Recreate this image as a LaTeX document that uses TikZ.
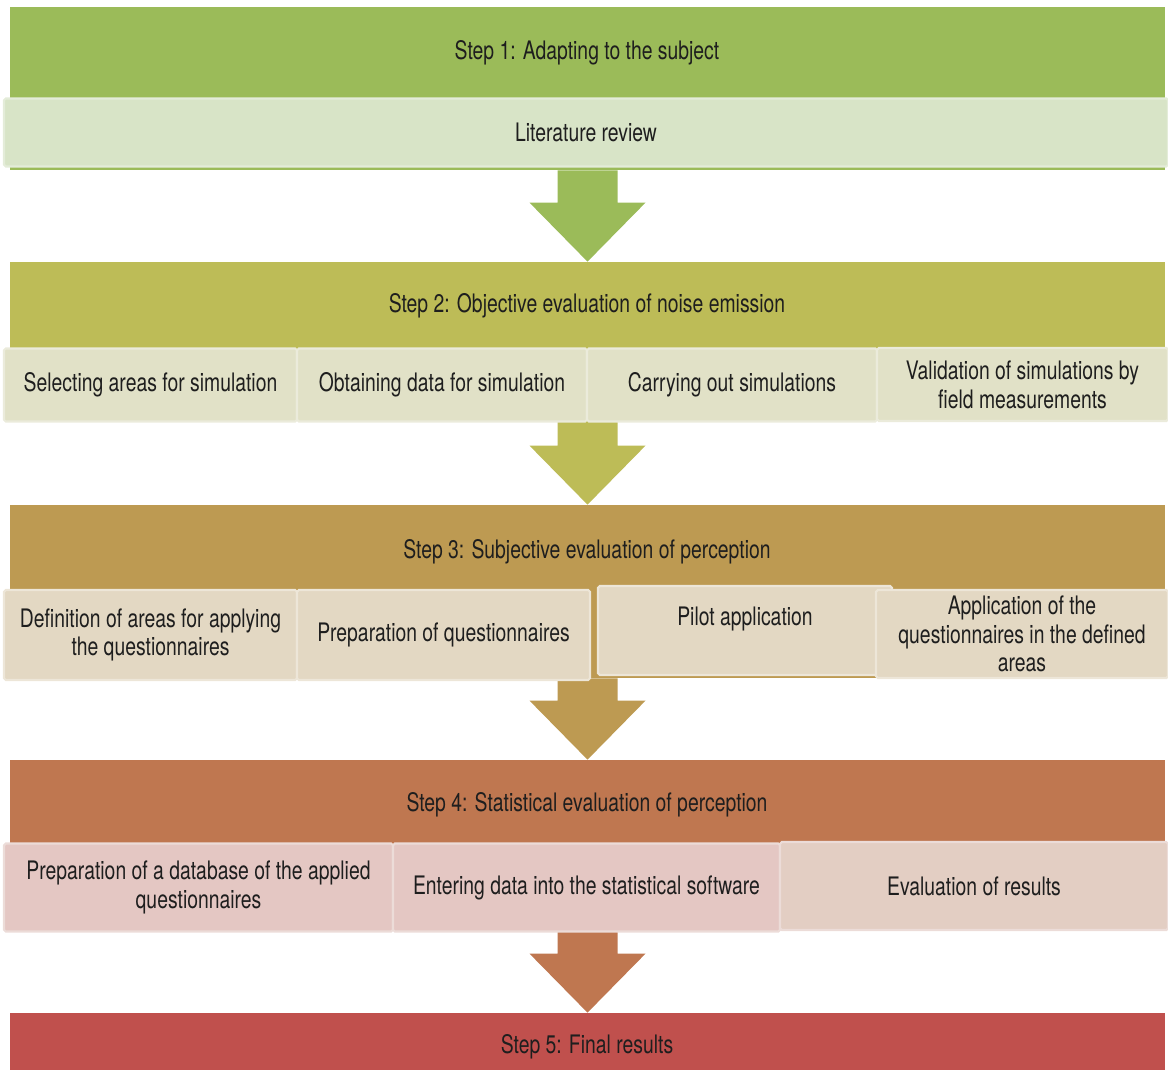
\documentclass[tikz,border=0pt]{standalone}
\usepackage{fontspec}
\setmainfont{TeX Gyre Heros}[FakeStretch=0.76]
\usetikzlibrary{calc}
\definecolor{ink}{HTML}{1E1E1E}
\definecolor{greenA}{HTML}{9BBB59}
\definecolor{greenL}{HTML}{D8E4C7}
\definecolor{greenLL}{HTML}{E4ECD9}
\definecolor{oliveB}{HTML}{BDBC57}
\definecolor{oliveL}{HTML}{E1E1C7}
\definecolor{oliveLL}{HTML}{EBEBDB}
\definecolor{ochreC}{HTML}{BD9A52}
\definecolor{ochreL}{HTML}{E3D8C3}
\definecolor{ochreLL}{HTML}{EDE6D8}
\definecolor{rustD}{HTML}{BF7750}
\definecolor{rustL}{HTML}{E4C7C3}
\definecolor{rustM}{HTML}{E3CEC3}
\definecolor{rustLL}{HTML}{ECDCD8}
\definecolor{redE}{HTML}{C0504D}
\tikzstyle{band}=[rectangle, inner sep=0pt, minimum width=23.1cm]
\tikzstyle{title}=[font=\fontsize{14.5}{16.4}\selectfont, text=ink]
\tikzstyle{stepbox}=[rectangle, rounded corners=1pt, line width=1.2pt, align=center, inner sep=2pt, font=\fontsize{14.5}{16.4}\selectfont, text=ink]
\newcommand{\band}{\node[band]}
\newcommand{\subbox}{\node[stepbox]}
% block arrow from one band down to the next
\newcommand{\stepArrow}[3]{%
  \fill[#3] ($(#1.south)+(-0.6,0)$) -- ($(#2.north)+(-0.6,1.18)$) -- ($(#2.north)+(-1.16,1.18)$)
    -- (#2.north) -- ($(#2.north)+(1.16,1.18)$) -- ($(#2.north)+(0.6,1.18)$) -- ($(#1.south)+(0.6,0)$) -- cycle;}

\begin{document}
\begin{tikzpicture}
    \useasboundingbox (0,0) rectangle (23.36,-21.4);
    % bands
    \band[fill=greenA, minimum height=3.26cm] (s1) at (11.75,-1.77){};
    \band[fill=oliveB, minimum height=3.16cm] (s2) at (11.75,-6.82){};
    \band[fill=ochreC, minimum height=3.46cm] (s3) at (11.75,-11.83){};
    \band[fill=rustD, minimum height=3.4cm] (s4) at (11.75,-16.9){};
    \band[fill=redE, minimum height=1.14cm] (s5) at (11.75,-20.83){};
    \node[title] (t1) at (11.74,-1.05){Step 1: Adapting to the subject};
    \node[title] (t2) at (11.74,-6.11){Step 2: Objective evaluation of noise emission};
    \node[title] (t3) at (11.74,-11.03){Step 3: Subjective evaluation of perception};
    \node[title] (t4) at (11.74,-16.09){Step 4: Statistical evaluation of perception};
    \node[title] (t5) at (11.74,-20.93){Step 5: Final results};
    % arrows
    \stepArrow{s1}{s2}{greenA}
    \stepArrow{s2}{s3}{oliveB}
    \stepArrow{s3}{s4}{ochreC}
    \stepArrow{s4}{s5}{rustD}
    % step 1
    \subbox[fill=greenL, draw=greenLL, minimum width=23.28cm, minimum height=1.36cm] (lit) at (11.72,-2.65){Literature review};
    % step 2
    \subbox[fill=oliveL, draw=oliveLL, minimum width=5.86cm, minimum height=1.46cm] (sel) at (3.01,-7.7){Selecting areas for simulation};
    \subbox[fill=oliveL, draw=oliveLL, minimum width=5.8cm, minimum height=1.46cm] (obt) at (8.84,-7.7){Obtaining data for simulation};
    \subbox[fill=oliveL, draw=oliveLL, minimum width=5.8cm, minimum height=1.46cm] (sim) at (14.64,-7.7){Carrying out simulations};
    \subbox[fill=oliveL, draw=oliveLL, minimum width=5.82cm, minimum height=1.46cm] (val) at (20.45,-7.69){Validation of simulations by\\field measurements};
    % step 3
    \subbox[fill=ochreL, draw=ochreLL, minimum width=5.86cm, minimum height=1.8cm] (def) at (3.01,-12.7){Definition of areas for applying\\the questionnaires};
    \subbox[fill=ochreL, draw=ochreLL, minimum width=5.86cm, minimum height=1.8cm] (prep) at (8.87,-12.7){Preparation of questionnaires};
    \subbox[fill=ochreL, draw=ochreLL, minimum width=5.88cm, minimum height=1.78cm, text depth=0.58cm] (pilot) at (14.9,-12.61){Pilot application};
    \subbox[fill=ochreL, draw=ochreLL, minimum width=5.84cm, minimum height=1.76cm] (app) at (20.44,-12.68){Application of the\\questionnaires in the defined\\areas};
    % step 4
    \subbox[fill=rustL, draw=rustLL, minimum width=7.78cm, minimum height=1.76cm] (db) at (3.97,-17.75){Preparation of a database of the applied\\questionnaires};
    \subbox[fill=rustL, draw=rustLL, minimum width=7.74cm, minimum height=1.76cm] (ent) at (11.73,-17.75){Entering data into the statistical software};
    \subbox[fill=rustM, draw=rustLL, minimum width=7.76cm, minimum height=1.76cm] (res) at (19.48,-17.72){Evaluation of results};
\end{tikzpicture}
\end{document}
